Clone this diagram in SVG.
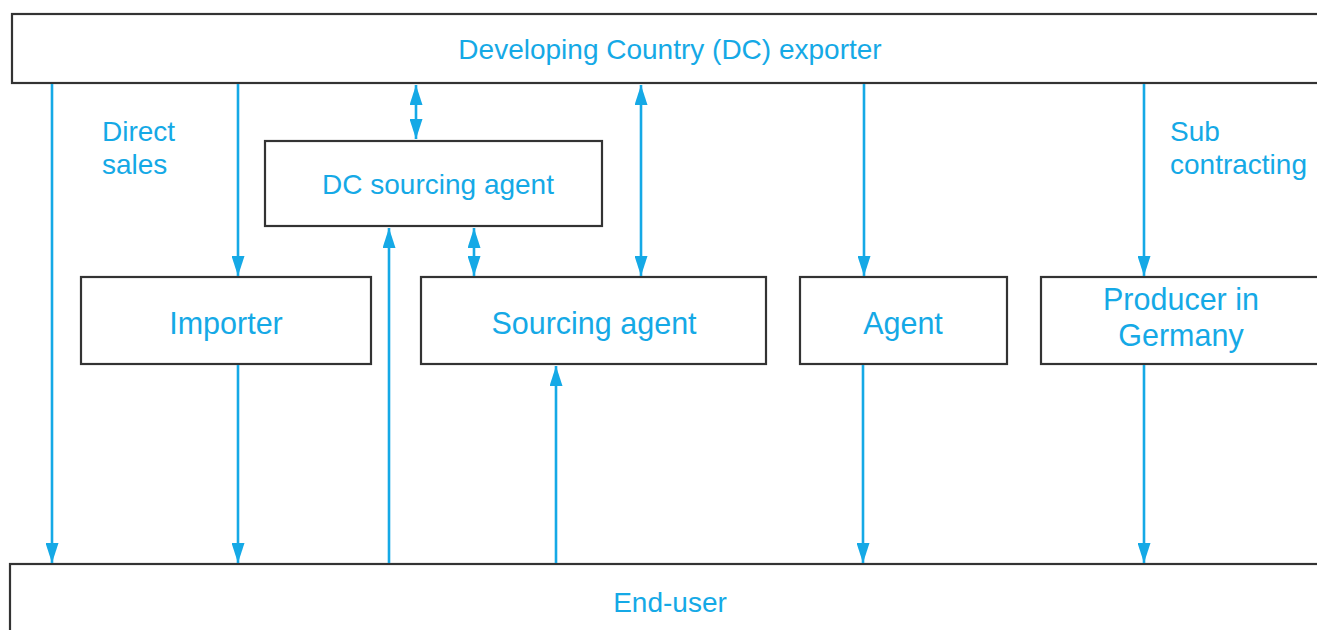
<svg xmlns="http://www.w3.org/2000/svg" width="1317" height="630" viewBox="0 0 1317 630">
  <style>
    .box { fill: #ffffff; stroke: #333333; stroke-width: 2.2; }
    .lbl { font-family: "Liberation Sans", Arial, sans-serif; fill: #15a9e6; }
    .c { text-anchor: middle; }
    .s { font-size: 28px; }
    .l { font-size: 30.5px; }
    .flow { stroke: #15a9e6; stroke-width: 2.6; fill: none; }
  </style>
  <defs>
    <marker id="head" markerUnits="userSpaceOnUse" viewBox="0 0 20 13" refX="20" refY="6.5" markerWidth="20" markerHeight="13" orient="auto-start-reverse">
      <path d="M0,0 L20,6.5 L0,13 Z" fill="#15a9e6"/>
    </marker>
  </defs>

  <rect width="1317" height="630" fill="#ffffff"/>

  <!-- exporter -->
  <g id="exporter">
    <rect class="box" x="12" y="14" width="1320" height="69"/>
    <text class="lbl c s" x="670" y="59">Developing Country (DC) exporter</text>
  </g>

  <!-- DC sourcing agent -->
  <g id="dc-sourcing-agent">
    <rect class="box" x="265" y="141" width="337" height="85"/>
    <text class="lbl c s" x="438" y="194">DC sourcing agent</text>
  </g>

  <!-- intermediaries -->
  <g id="importer">
    <rect class="box" x="81" y="277" width="290" height="87"/>
    <text class="lbl c l" x="226" y="334">Importer</text>
  </g>
  <g id="sourcing-agent">
    <rect class="box" x="421" y="277" width="345" height="87"/>
    <text class="lbl c l" x="594" y="334">Sourcing agent</text>
  </g>
  <g id="agent">
    <rect class="box" x="800" y="277" width="207" height="87"/>
    <text class="lbl c l" x="903" y="334">Agent</text>
  </g>
  <g id="producer">
    <rect class="box" x="1041" y="277" width="300" height="87"/>
    <text class="lbl c l" x="1181" y="310">Producer in</text>
    <text class="lbl c l" x="1181" y="346">Germany</text>
  </g>

  <!-- end-user -->
  <g id="end-user">
    <rect class="box" x="10" y="564" width="1320" height="80"/>
    <text class="lbl c s" x="670" y="612">End-user</text>
  </g>

  <!-- channel labels -->
  <g id="labels">
    <text class="lbl s" x="102" y="141">Direct</text>
    <text class="lbl s" x="102" y="174">sales</text>
    <text class="lbl s" x="1170" y="141">Sub</text>
    <text class="lbl s" x="1170" y="174">contracting</text>
  </g>

  <!-- connectors -->
  <g id="connectors">
    <line class="flow" x1="52" y1="84" x2="52" y2="563" marker-end="url(#head)"/>
    <line class="flow" x1="238" y1="84" x2="238" y2="276" marker-end="url(#head)"/>
    <line class="flow" x1="238" y1="365" x2="238" y2="563" marker-end="url(#head)"/>
    <line class="flow" x1="416" y1="85" x2="416" y2="139" marker-start="url(#head)" marker-end="url(#head)"/>
    <line class="flow" x1="474" y1="228" x2="474" y2="276" marker-start="url(#head)" marker-end="url(#head)"/>
    <line class="flow" x1="641" y1="85" x2="641" y2="276" marker-start="url(#head)" marker-end="url(#head)"/>
    <line class="flow" x1="389" y1="563" x2="389" y2="228" marker-end="url(#head)"/>
    <line class="flow" x1="556" y1="563" x2="556" y2="366" marker-end="url(#head)"/>
    <line class="flow" x1="864" y1="84" x2="864" y2="276" marker-end="url(#head)"/>
    <line class="flow" x1="863" y1="365" x2="863" y2="563" marker-end="url(#head)"/>
    <line class="flow" x1="1144" y1="84" x2="1144" y2="276" marker-end="url(#head)"/>
    <line class="flow" x1="1144" y1="365" x2="1144" y2="563" marker-end="url(#head)"/>
  </g>
</svg>
